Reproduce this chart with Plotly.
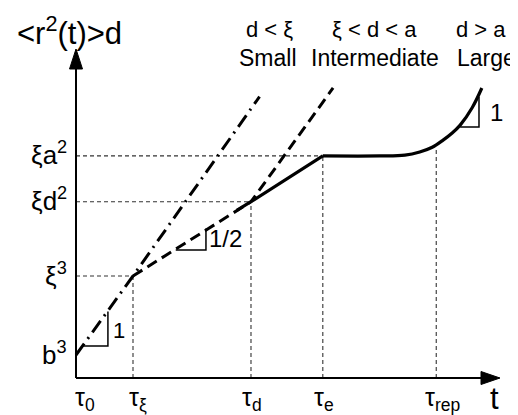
import plotly.graph_objects as go

# ---------------- data (schematic log-log units) ----------------
t_names = ["τ<sub>0</sub>", "τ<sub>ξ</sub>", "τ<sub>d</sub>", "τ<sub>e</sub>", "τ<sub>rep</sub>"]
t_vals = [0.0, 1.0, 3.07, 4.33, 6.32]

y_names = ["b<sup>3</sup>", "ξ<sup>3</sup>", "ξd<sup>2</sup>", "ξa<sup>2</sup>"]
y_vals = [0.0, 1.0, 1.94, 2.52]

# solid MSD curve (intermediate d): slope-1/2 segment, plateau, reptation rise
solid_seg_x = [2.82, 3.07, 4.33]
solid_seg_y = [1.83, 1.94, 2.52]
solid_curve_x = [4.33, 5.33, 5.77, 6.03, 6.25, 6.44, 6.60, 6.74, 6.95, 7.12]
solid_curve_y = [2.52, 2.52, 2.53, 2.57, 2.63, 2.72, 2.81, 2.91, 3.13, 3.38]

# dashed: slope 1/2 from tau_xi to tau_d, then slope 1
dashed_x = [1.0, 3.07, 4.51]
dashed_y = [1.0, 1.94, 3.38]

# dash-dot: slope 1 (small d)
dashdot_x = [0.0, 1.0, 3.22]
dashdot_y = [0.0, 1.0, 3.27]

# slope triangles
tri1_x, tri1_y = [0.12, 0.56, 0.56], [0.114, 0.114, 0.55]
tri2_x, tri2_y = [1.75, 2.28, 2.28], [1.33, 1.33, 1.60]
tri3_x, tri3_y = [6.74, 7.07, 7.07], [2.886, 2.886, 3.27]
slope_labels = ["1", "1/2", "1"]

regime_top = ["d < ξ", "ξ < d < a", "d > a"]
regime_bot = ["Small", "Intermediate", "Large"]

# ---------------- geometry helpers ----------------
OFF = 8                      # default page margin of the html body
W, H = 518 - OFF, 415 - OFF
X0PX, SX = 76 - OFF, 57.0    # pixel of x=0 and pixels per unit
Y0PX, SY = 355 - OFF, 79.0   # pixel of y=0 and pixels per unit
xr = [-X0PX / SX, (W - X0PX) / SX]
yr = [(Y0PX - H) / SY, Y0PX / SY]
dx = lambda p: p / SX
dy = lambda p: p / SY
def ux(px): return (px - OFF - X0PX) / SX   # reference-pixel -> data
def uy(py): return (Y0PX - (py - OFF)) / SY

axis_y0 = uy(378)
y_tip = uy(49)
x_tip = ux(500)

FONT = "Arial, Liberation Sans, sans-serif"
fig = go.Figure()

def line(x, y, width=1.0, dash="solid", color="black", shape="linear"):
    fig.add_trace(go.Scatter(x=x, y=y, mode="lines", hoverinfo="skip",
                             line=dict(color=color, width=width, dash=dash, shape=shape)))

# guide lines
guide = dict(width=1.1, dash="4px,3px", color="#333333")
for yv, xv in [(y_vals[1], t_vals[1]), (y_vals[2], t_vals[2]), (y_vals[3], t_vals[3])]:
    line([0, xv], [yv, yv], **guide)
for xv, yv in [(t_vals[1], y_vals[1]), (t_vals[2], y_vals[2]), (t_vals[3], y_vals[3]), (t_vals[4], 2.62)]:
    line([xv, xv], [axis_y0, yv], **guide)

# main curves
line(dashdot_x, dashdot_y, width=3, dash="14px,6px,2px,6px")
line(dashed_x, dashed_y, width=3, dash="11px,6px")
line(solid_seg_x, solid_seg_y, width=3.2)
line(solid_curve_x, solid_curve_y, width=3.2, shape="spline")

# triangles
for tx, ty in [(tri1_x, tri1_y), (tri2_x, tri2_y), (tri3_x, tri3_y)]:
    line(tx, ty, width=1.5)

# axes
line([0, 0], [axis_y0, y_tip - dy(18)], width=2)
line([0, x_tip - dx(16)], [axis_y0, axis_y0], width=2)
fig.add_trace(go.Scatter(x=[0, -dx(6.5), dx(6.5), 0], y=[y_tip, y_tip - dy(20), y_tip - dy(20), y_tip],
                         mode="lines", fill="toself", fillcolor="black", line=dict(color="black", width=1),
                         hoverinfo="skip"))
fig.add_trace(go.Scatter(x=[x_tip, x_tip - dx(19), x_tip - dx(19), x_tip],
                         y=[axis_y0, axis_y0 + dy(6.5), axis_y0 - dy(6.5), axis_y0],
                         mode="lines", fill="toself", fillcolor="black", line=dict(color="black", width=1),
                         hoverinfo="skip"))

ann = []
def text(x, y, s, size, xanchor="center", yanchor="middle"):
    ann.append(dict(x=x, y=y, text=s, showarrow=False, xref="x", yref="y",
                    xanchor=xanchor, yanchor=yanchor, font=dict(family=FONT, size=size, color="black")))

# y labels
for name, yv in zip(y_names, y_vals):
    text(-dx(7), yv + dy(2), name, 26, xanchor="right")
# x labels (label centre offsets from their tick line, in px)
t_label_off = [9, 5, 1, 1, 6]
for name, tv, o in zip(t_names, t_vals, t_label_off):
    text(tv + dx(o), axis_y0 - dy(21), name, 25)
text(ux(494), axis_y0 - dy(20), "t", 31)
# y axis title
text(ux(69), uy(31), "<r<sup>2</sup>(t)>d", 31)
# regimes
for s, cx in zip(regime_top, [269, 374, 481]):
    text(ux(cx), uy(29), s, 22)
for s, cx in zip(regime_bot, [268, 375, 486]):
    text(ux(cx), uy(58), s, 23)
# slope labels
text(ux(119), uy(330), slope_labels[0], 22)
text(ux(225), uy(238), slope_labels[1], 24)
text(ux(496), uy(112), slope_labels[2], 24)

fig.update_layout(
    width=W, height=H, margin=dict(l=0, r=0, t=0, b=0),
    paper_bgcolor="white", plot_bgcolor="white", showlegend=False,
    xaxis=dict(range=xr, visible=False, fixedrange=True),
    yaxis=dict(range=yr, visible=False, fixedrange=True),
    annotations=ann,
)
fig.write_html("out.html")
